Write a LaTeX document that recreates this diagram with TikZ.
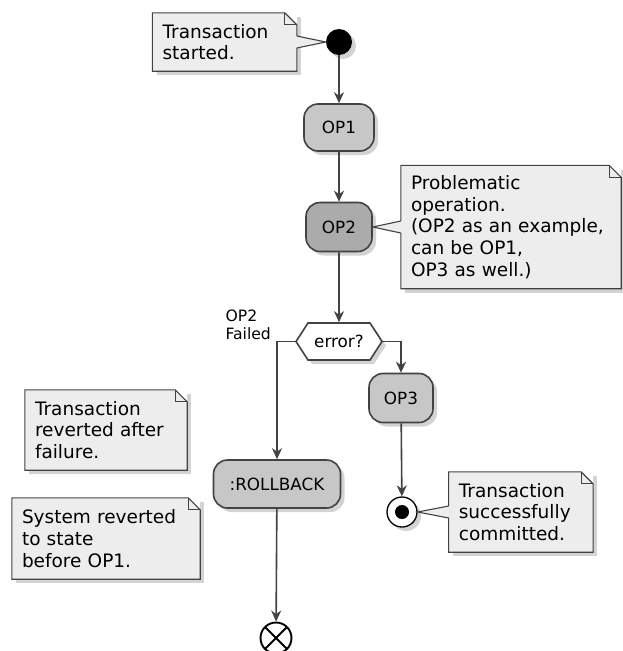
\documentclass[tikz,border=0pt]{standalone}
\usepackage{fontspec}
\setmainfont{DejaVu Sans}
\usetikzlibrary{arrows.meta,positioning,shapes.symbols,shadows}
\definecolor{notefill}{gray}{0.93}
\definecolor{actfill}{gray}{0.78}
\definecolor{actdark}{gray}{0.67}
\definecolor{linec}{gray}{0.26}
\newcommand{\notefont}{\fontsize{18.5}{21.6}\selectfont}
\newcommand{\actfont}{\fontsize{16.8}{19.5}\selectfont}
\newcommand{\lblfont}{\fontsize{15.6}{18}\selectfont}
% outline of a note with its folded corner
\newcommand{\foldnote}[1]{%
  \fill[white] ([xshift=-12pt]#1.north east) -- (#1.north east) -- ([yshift=-12pt]#1.north east) -- cycle;
  \draw[memoline] (#1.north west) -- ([xshift=-12pt]#1.north east) -- ([yshift=-12pt]#1.north east)
    -- (#1.south east) -- (#1.south west) -- cycle;
  \draw[memoline] ([xshift=-12pt]#1.north east) -- ([xshift=-12pt,yshift=-12pt]#1.north east)
    -- ([yshift=-12pt]#1.north east);}
% pointer from a note to a node
\newcommand{\notewedge}[3]{%
  \fill[notefill] ([xshift=#3,yshift=6pt]#1) -- (#2) -- ([xshift=#3,yshift=-6pt]#1) -- cycle;
  \draw[memoline] ([yshift=6pt]#1) -- (#2) -- ([yshift=-6pt]#1);}

\begin{document}
\begin{tikzpicture}[x=1pt,y=-1pt,>={Stealth[length=11pt,width=10pt,inset=3.5pt]},
  flow/.style={draw=linec,line width=1.6pt},
  shade/.style={drop shadow={opacity=0.35,shadow xshift=4pt,shadow yshift=-4pt}},
  action/.style={draw=linec,fill=actfill,line width=1.6pt,rounded corners=14pt,
    minimum width=66pt,minimum height=48pt,inner sep=4pt,font=\actfont,shade},
  decision/.style={signal,signal to=west and east,signal pointer angle=114,draw=linec,
    fill=white,line width=1.6pt,minimum width=86pt,minimum height=37pt,inner sep=0pt,
    font=\actfont,shade},
  memo/.style={fill=notefill,inner xsep=10pt,inner ysep=0pt,align=left,font=\notefont,shade},
  memoline/.style={draw=linec,line width=1.1pt},
  startdot/.style={circle,fill=black,minimum size=26pt,inner sep=0pt,shade},
  stopdot/.style={circle,draw=black,fill=white,line width=1.3pt,minimum size=30pt,inner sep=0pt,
    path picture={\fill[black] (path picture bounding box.center) circle (7pt);},shade},
  enddot/.style={circle,draw=black,fill=white,line width=1.9pt,minimum size=31pt,inner sep=0pt,
    path picture={\draw[line width=1.9pt] (path picture bounding box.north west)
      -- (path picture bounding box.south east) (path picture bounding box.north east)
      -- (path picture bounding box.south west);}}]
\useasboundingbox (0,0) rectangle (623,651);
\node[startdot] (start) at (339,42) {};
\node[action, minimum width=70pt, minimum height=47pt] (op1) at (339,127.5) {OP1};
\node[action, fill=actdark, minimum height=49pt] (op2) at (339,227) {OP2};
\node[decision] (error) at (339,341.5) {error?};
\node[action, minimum width=64pt, minimum height=49pt] (op3) at (401,398) {OP3};
\node[action, minimum width=127pt] (rollback) at (277,484) {:ROLLBACK};
\node[stopdot] (stop) at (402,512) {};
\node[enddot] (end) at (276,638) {};
\node[font=\lblfont, align=left, inner sep=0pt, anchor=south east] (failedlbl)
  at ([xshift=-24pt,yshift=2pt]error.west) {OP2\\Failed};

\node[memo, text width=124pt, minimum height=58pt, left=29pt of start] (startnote)
  {Transaction\\started.};
\node[memo, text width=200pt, minimum height=123pt, right=28pt of op2] (op2note)
  {Problematic\\operation.\\(OP2 as an example,\\can be OP1,\\OP3 as well.)};
\node[memo, text width=124pt, minimum height=80pt, right=31pt of stop] (commitnote)
  {Transaction\\successfully\\committed.};
\node[memo, text width=142pt, minimum height=80pt] (revertnote) at (106,430)
  {Transaction\\reverted after\\failure.};
\node[memo, text width=168pt, minimum height=81pt] (statenote) at (106,538.5)
  {System reverted\\to state\\before OP1.};
\foldnote{startnote}
\foldnote{op2note}
\foldnote{commitnote}
\foldnote{revertnote}
\foldnote{statenote}
\notewedge{startnote.east}{start.west}{-1pt}
\notewedge{op2note.west}{op2.east}{1pt}
\notewedge{commitnote.west}{stop.east}{1pt}

\draw[flow,->] (start) -- (op1);
\draw[flow,->] (op1) -- (op2);
\draw[flow,->] (op2) -- (error);
\draw[flow,->] (error.west) -| (rollback.north);
\draw[flow,->] (error.east) -| (op3.north);
\draw[flow,->] (op3) -- (stop);
\draw[flow,->] (rollback) -- (end);
\end{tikzpicture}
\end{document}
